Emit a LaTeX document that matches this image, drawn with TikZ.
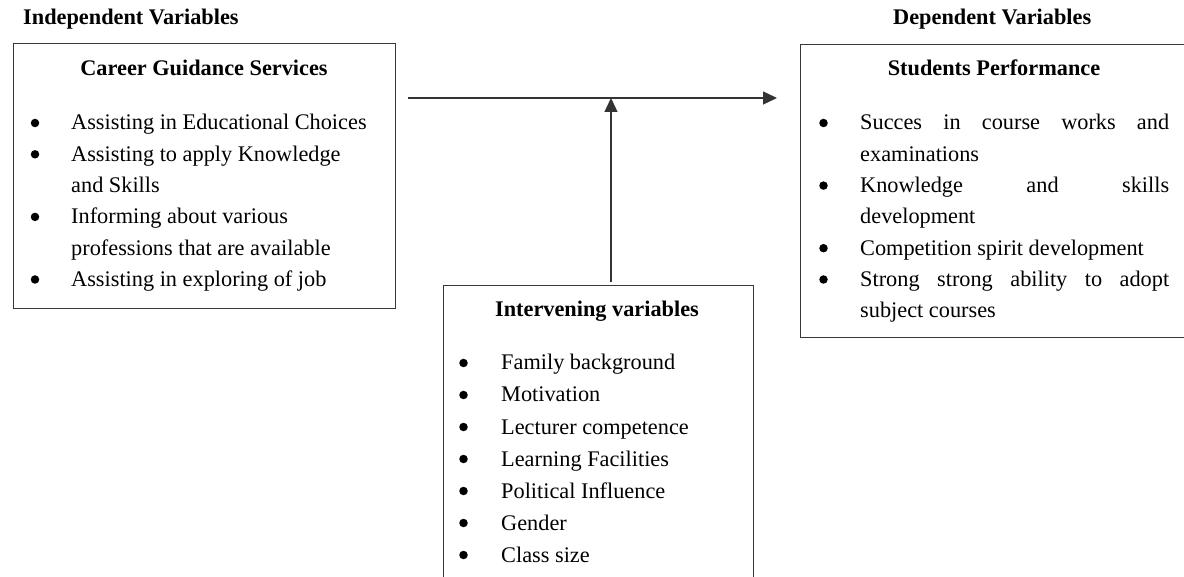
\documentclass[tikz,border=0pt]{standalone}
\usepackage{fontspec}
\setmainfont{Liberation Serif}
\usetikzlibrary{arrows.meta,calc}
\tikzset{
  box/.style={draw=black!78, line width=1.2pt, anchor=north west, inner sep=0pt},
  txt/.style={anchor=base west, inner sep=0pt, font=\fontsize{22.3}{31.3}\selectfont},
  headw/.style={anchor=base west, inner sep=0pt, font=\fontsize{22.3}{31.3}\selectfont\bfseries},
  headc/.style={anchor=base, inner sep=0pt, font=\fontsize{22.3}{31.3}\selectfont\bfseries},
  dot/.style={circle, fill=black, inner sep=0pt, minimum size=8.5pt},
  arr/.style={draw=black!80, line width=1.4pt, -{Triangle[length=14pt,width=13pt]}}
}
\newcommand\myline[4]{\node[txt] (#1) at (#2,#3) {#4};}
\newcommand\jline[4]{\node[txt] (#1) at (#2,#3) {\makebox[309pt][s]{#4}};}
\newcommand\mydot[3]{\node[dot] (#1) at (#2,#3-7) {};}
\begin{document}
\begin{tikzpicture}[x=1pt,y=-1pt]
\useasboundingbox (0,0) rectangle (1184,577);
\clip (0,0) rectangle (1184,577);

% boxes
\node[box, minimum width=382pt, minimum height=265pt] (L) at (13,43) {};
\node[box, minimum width=395pt, minimum height=293pt] (R) at (800,44) {};
\node[box, minimum width=310pt, minimum height=320pt] (M) at (443,285) {};

% headings
\node[headw] (hind) at (23,25) {Independent Variables};
\node[headw] (hdep) at (893,25) {Dependent Variables};
\node[headc] (hcgs) at (204,76) {Career Guidance Services};
\node[headc] (hsp) at (994,76) {Students Performance};
\node[headc] (hiv) at (597,317) {Intervening variables};

% left box
\mydot{lb1}{35}{130}
\mydot{lb2}{35}{161.3}
\mydot{lb3}{35}{223.9}
\mydot{lb4}{35}{286.5}
\myline{lt1}{71}{130}{Assisting in Educational Choices}
\myline{lt2}{71}{161.3}{Assisting to apply Knowledge}
\myline{lt3}{71}{192.6}{and Skills}
\myline{lt4}{71}{223.9}{Informing about various}
\myline{lt5}{71}{255.2}{professions that are available}
\myline{lt6}{71}{286.5}{Assisting in exploring of job}

% right box
\mydot{rb1}{823.5}{130}
\mydot{rb2}{823.5}{192.6}
\mydot{rb3}{823.5}{255.2}
\mydot{rb4}{823.5}{286.5}
\jline{rt1}{860}{130}{Succes in course works and}
\myline{rt2}{860}{161.3}{examinations}
\jline{rt3}{860}{192.6}{Knowledge and skills}
\myline{rt4}{860}{223.9}{development}
\myline{rt5}{860}{255.2}{Competition spirit development}
\jline{rt6}{860}{286.5}{Strong strong ability to adopt}
\myline{rt7}{860}{317.8}{subject courses}

% middle box
\foreach \yy/\lbl [count=\i] in {370/Family background, 402/Motivation, 434/Lecturer competence, 466/Learning Facilities, 498/Political Influence, 530/Gender, 562/Class size}{
  \node[dot] (mb\i) at (463.5,\yy-7) {};
  \node[txt] (mt\i) at (501,\yy) {\lbl};
}

% arrows
\coordinate (hs) at (408,98);
\coordinate (he) at (777,98);
\coordinate (vs) at (611,282);
\draw[arr] (hs) -- (he);
\draw[arr] (vs) -- (vs |- hs);
\end{tikzpicture}
\end{document}
